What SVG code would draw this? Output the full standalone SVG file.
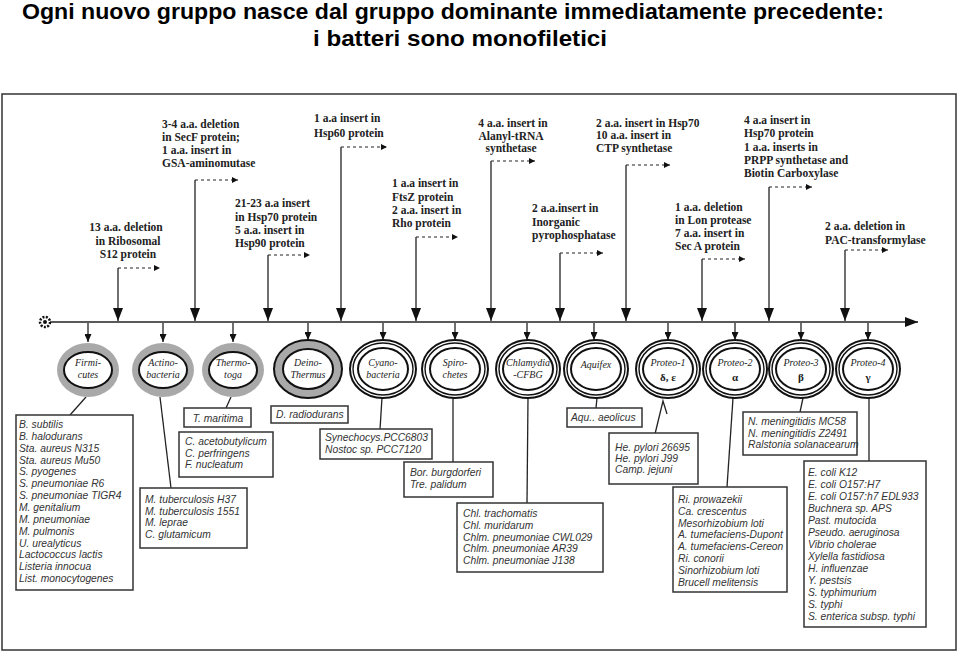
<svg xmlns="http://www.w3.org/2000/svg" width="960" height="654" viewBox="0 0 960 654">
<defs>
<style>
.title{font-family:"Liberation Sans",Arial,sans-serif;font-weight:bold;font-size:22px;fill:#000;text-anchor:middle}
.ann{font-family:"Liberation Serif","Times New Roman",serif;font-weight:bold;font-size:11.5px;fill:#222}
.sp{font-family:"Liberation Sans",Arial,sans-serif;font-style:italic;font-size:10.3px;fill:#333}
.nl{font-family:"Liberation Serif","Times New Roman",serif;font-style:italic;font-size:10px;fill:#222;text-anchor:middle}
.gr{font-family:"Liberation Serif","Times New Roman",serif;font-weight:bold;font-size:11px;fill:#222;text-anchor:middle}
.box{fill:#fff;stroke:#333;stroke-width:1.5}
.ln{stroke:#222;stroke-width:1.3;fill:none}
.dash{stroke:#222;stroke-width:1.2;stroke-dasharray:3 3;fill:none}
.ring{fill:#fff;stroke:#111;stroke-width:2}
.ring1{fill:#fff;stroke:#111;stroke-width:1.4}
.gray{fill:#a9a9a9;stroke:none}
</style>
<marker id="big" viewBox="0 0 13 10" refX="13" refY="5" markerWidth="13" markerHeight="10" orient="auto" markerUnits="userSpaceOnUse"><path d="M0,0 L13,5 L0,10 z" fill="#111"/></marker>
<marker id="med" viewBox="0 0 8 7" refX="8" refY="3.5" markerWidth="8" markerHeight="7" orient="auto" markerUnits="userSpaceOnUse"><path d="M0,0 L8,3.5 L0,7 z" fill="#111"/></marker>
<marker id="sm" viewBox="0 0 6 6" refX="6" refY="3" markerWidth="6" markerHeight="6" orient="auto" markerUnits="userSpaceOnUse"><path d="M0,0 L6,3 L0,6 z" fill="#111"/></marker>
</defs>
<rect width="960" height="654" fill="#fff"/>
<text class="title" x="453" y="19" textLength="862" lengthAdjust="spacingAndGlyphs">Ogni nuovo gruppo nasce dal gruppo dominante immediatamente precedente:</text>
<text class="title" x="460" y="46" textLength="294" lengthAdjust="spacingAndGlyphs">i batteri sono monofiletici</text>
<rect x="2" y="94" width="954" height="556" fill="none" stroke="#333" stroke-width="1.5"/>

<g id="connectors">
  <line class="ln" x1="50" y1="322" x2="918" y2="322" stroke-width="2" marker-end="url(#big)"/>
  <line class="ln" x1="118" y1="268" x2="118" y2="321" marker-end="url(#big)"/><line class="dash" x1="118" y1="268" x2="160" y2="268" marker-end="url(#sm)"/>
  <line class="ln" x1="195" y1="180" x2="195" y2="321" marker-end="url(#big)"/><line class="dash" x1="195" y1="180" x2="238" y2="180" marker-end="url(#sm)"/>
  <line class="ln" x1="268" y1="255" x2="268" y2="321" marker-end="url(#big)"/><line class="dash" x1="268" y1="255" x2="310" y2="255" marker-end="url(#sm)"/>
  <line class="ln" x1="341" y1="147" x2="341" y2="321" marker-end="url(#big)"/><line class="dash" x1="341" y1="147" x2="387" y2="147" marker-end="url(#sm)"/>
  <line class="ln" x1="416" y1="237" x2="416" y2="321" marker-end="url(#big)"/><line class="dash" x1="416" y1="237" x2="458" y2="237" marker-end="url(#sm)"/>
  <line class="ln" x1="491" y1="161" x2="491" y2="321" marker-end="url(#big)"/><line class="dash" x1="491" y1="161" x2="535" y2="161" marker-end="url(#sm)"/>
  <line class="ln" x1="560" y1="253" x2="560" y2="321" marker-end="url(#big)"/><line class="dash" x1="560" y1="253" x2="603" y2="253" marker-end="url(#sm)"/>
  <line class="ln" x1="626" y1="165" x2="626" y2="321" marker-end="url(#big)"/><line class="dash" x1="626" y1="165" x2="670" y2="165" marker-end="url(#sm)"/>
  <line class="ln" x1="702" y1="259" x2="702" y2="321" marker-end="url(#big)"/><line class="dash" x1="702" y1="259" x2="745" y2="259" marker-end="url(#sm)"/>
  <line class="ln" x1="769" y1="187" x2="769" y2="321" marker-end="url(#big)"/><line class="dash" x1="769" y1="187" x2="812" y2="187" marker-end="url(#sm)"/>
  <line class="ln" x1="845" y1="250" x2="845" y2="321" marker-end="url(#big)"/><line class="dash" x1="845" y1="250" x2="888" y2="250" marker-end="url(#sm)"/>
  <line class="ln" x1="88" y1="323" x2="88" y2="342" marker-end="url(#med)"/>
  <line class="ln" x1="163" y1="323" x2="163" y2="342" marker-end="url(#med)"/>
  <line class="ln" x1="233" y1="323" x2="233" y2="342" marker-end="url(#med)"/>
  <line class="ln" x1="308" y1="323" x2="308" y2="340" marker-end="url(#med)"/>
  <line class="ln" x1="383" y1="323" x2="383" y2="340" marker-end="url(#med)"/>
  <line class="ln" x1="455" y1="323" x2="455" y2="340" marker-end="url(#med)"/>
  <line class="ln" x1="527" y1="323" x2="527" y2="340" marker-end="url(#med)"/>
  <line class="ln" x1="594" y1="323" x2="594" y2="340" marker-end="url(#med)"/>
  <line class="ln" x1="668" y1="323" x2="668" y2="340" marker-end="url(#med)"/>
  <line class="ln" x1="735" y1="323" x2="735" y2="340" marker-end="url(#med)"/>
  <line class="ln" x1="801" y1="323" x2="801" y2="340" marker-end="url(#med)"/>
  <line class="ln" x1="868" y1="323" x2="868" y2="340" marker-end="url(#med)"/>
  <line class="ln" x1="86" y1="397" x2="70" y2="415" stroke="#777"/>
  <line class="ln" x1="160" y1="397" x2="171" y2="488"/>
  <line class="ln" x1="231" y1="397" x2="226" y2="408"/>
  <line class="ln" x1="382" y1="398" x2="380" y2="429"/>
  <line class="ln" x1="453" y1="398" x2="453" y2="462"/>
  <line class="ln" x1="528" y1="398" x2="527" y2="503"/>
  <line class="ln" x1="597" y1="398" x2="596" y2="408"/>
  <polyline class="ln" points="655,434 663,401 667,414"/>
  <line class="ln" x1="733" y1="398" x2="727" y2="487"/>
  <line class="ln" x1="803" y1="398" x2="800" y2="412"/>
  <line class="ln" x1="869" y1="398" x2="869" y2="461"/>
</g>

<g id="origin">
  <circle cx="45" cy="322" r="5" fill="#fff" stroke="#111" stroke-width="2.5" stroke-dasharray="2 1.4"/>
  <circle cx="45" cy="322" r="2" fill="#111"/>
</g>

<g id="annotations">
  <g id="ann1" class="ann" text-anchor="middle"><text x="126" y="231">13 a.a. deletion</text><text x="128" y="245">in Ribosomal</text><text x="128" y="258">S12 protein</text></g>
  <g id="ann2" class="ann"><text x="162" y="128">3-4 a.a. deletion</text><text x="162" y="141">in SecF protein;</text><text x="162" y="154">1 a.a. insert in</text><text x="162" y="167">GSA-aminomutase</text></g>
  <g id="ann3" class="ann"><text x="235" y="207">21-23 a.a insert</text><text x="235" y="221">in Hsp70 protein</text><text x="235" y="234">5 a.a. insert in</text><text x="235" y="247">Hsp90 protein</text></g>
  <g id="ann4" class="ann"><text x="314" y="122">1 a.a insert in</text><text x="314" y="137">Hsp60 protein</text></g>
  <g id="ann5" class="ann"><text x="392" y="187">1 a.a insert in</text><text x="392" y="201">FtsZ protein</text><text x="392" y="214">2 a.a. insert in</text><text x="392" y="227">Rho protein</text></g>
  <g id="ann6" class="ann" text-anchor="middle"><text x="513" y="127">4 a.a. insert in</text><text x="511" y="140">Alanyl-tRNA</text><text x="511" y="152">synthetase</text></g>
  <g id="ann7" class="ann"><text x="532" y="212">2 a.a.insert in</text><text x="532" y="226">Inorganic</text><text x="532" y="239">pyrophosphatase</text></g>
  <g id="ann8" class="ann"><text x="596" y="127">2 a.a. insert in Hsp70</text><text x="596" y="139">10 a.a. insert in</text><text x="596" y="152">CTP synthetase</text></g>
  <g id="ann9" class="ann"><text x="744" y="124">4 a.a insert in</text><text x="744" y="137">Hsp70 protein</text><text x="744" y="151">1 a.a. inserts in</text><text x="744" y="164">PRPP synthetase and</text><text x="744" y="177">Biotin Carboxylase</text></g>
  <g id="ann10" class="ann"><text x="675" y="211">1 a.a. deletion</text><text x="675" y="224">in Lon protease</text><text x="675" y="237">7 a.a. insert in</text><text x="675" y="250">Sec A protein</text></g>
  <g id="ann11" class="ann"><text x="825" y="230">2 a.a. deletion in</text><text x="825" y="244">PAC-transformylase</text></g>
</g>

<g id="node-firmicutes"><ellipse class="gray" cx="88" cy="370" rx="31" ry="27"/><ellipse class="ring" cx="88" cy="370" rx="24" ry="18"/><text class="nl" x="88" y="366">Firmi-</text><text class="nl" x="88" y="378">cutes</text></g>
<g id="node-actinobacteria"><ellipse class="gray" cx="163" cy="370" rx="31" ry="27"/><ellipse class="ring" cx="163" cy="370" rx="24" ry="18"/><text class="nl" x="163" y="366">Actino-</text><text class="nl" x="163" y="378">bacteria</text></g>
<g id="node-thermotoga"><ellipse class="gray" cx="233" cy="370" rx="31" ry="27"/><ellipse class="ring" cx="233" cy="370" rx="24" ry="18"/><text class="nl" x="233" y="366">Thermo-</text><text class="nl" x="233" y="378">toga</text></g>
<g id="node-deinothermus"><ellipse cx="308" cy="369" rx="34" ry="29" fill="#a9a9a9" stroke="#111" stroke-width="2"/><ellipse class="ring" cx="308" cy="369" rx="25" ry="20"/><text class="nl" x="308" y="366">Deino-</text><text class="nl" x="308" y="378">Thermus</text></g>
<g id="node-cyanobacteria"><ellipse class="ring" cx="383" cy="369" rx="33" ry="29"/><ellipse class="ring1" cx="383" cy="369" rx="30" ry="26"/><ellipse class="ring" cx="383" cy="369" rx="25" ry="21"/><text class="nl" x="383" y="366">Cyano-</text><text class="nl" x="383" y="378">bacteria</text></g>
<g id="node-spirochetes"><ellipse class="ring" cx="455" cy="369" rx="33" ry="29"/><ellipse class="ring1" cx="455" cy="369" rx="30" ry="26"/><ellipse class="ring" cx="455" cy="369" rx="25" ry="21"/><text class="nl" x="455" y="366">Spiro-</text><text class="nl" x="455" y="378">chetes</text></g>
<g id="node-chlamydia"><ellipse class="ring" cx="528" cy="369" rx="32" ry="29"/><ellipse class="ring1" cx="528" cy="369" rx="29" ry="26"/><ellipse class="ring" cx="528" cy="369" rx="25" ry="21"/><text class="nl" x="528" y="366">Chlamydia</text><text class="nl" x="528" y="378">-CFBG</text></g>
<g id="node-aquifex"><ellipse class="ring" cx="596" cy="369" rx="32" ry="29"/><ellipse class="ring1" cx="596" cy="369" rx="29" ry="26"/><ellipse class="ring" cx="596" cy="369" rx="25" ry="21"/><text class="nl" x="596" y="368">Aquifex</text></g>
<g id="node-proteo1"><ellipse class="ring" cx="668" cy="369" rx="32" ry="29"/><ellipse class="ring1" cx="668" cy="369" rx="29" ry="26"/><ellipse class="ring" cx="668" cy="369" rx="25" ry="21"/><text class="nl" x="668" y="366">Proteo-1</text><text class="gr" x="668" y="381">δ, ε</text></g>
<g id="node-proteo2"><ellipse class="ring" cx="735" cy="369" rx="32" ry="29"/><ellipse class="ring1" cx="735" cy="369" rx="29" ry="26"/><ellipse class="ring" cx="735" cy="369" rx="25" ry="21"/><text class="nl" x="735" y="366">Proteo-2</text><text class="gr" x="735" y="381">α</text></g>
<g id="node-proteo3"><ellipse class="ring" cx="801" cy="369" rx="32" ry="29"/><ellipse class="ring1" cx="801" cy="369" rx="29" ry="26"/><ellipse class="ring" cx="801" cy="369" rx="25" ry="21"/><text class="nl" x="801" y="366">Proteo-3</text><text class="gr" x="801" y="381">β</text></g>
<g id="node-proteo4"><ellipse class="ring" cx="868" cy="369" rx="32" ry="29"/><ellipse class="ring1" cx="868" cy="369" rx="29" ry="26"/><ellipse class="ring" cx="868" cy="369" rx="25" ry="21"/><text class="nl" x="868" y="366">Proteo-4</text><text class="gr" x="868" y="381">γ</text></g>

<g id="box-firmicutes"><rect class="box" x="16" y="415" width="117" height="175"/>
<text class="sp" x="19" y="428"><tspan x="19">B. subtilis</tspan><tspan x="19" dy="11.85">B. halodurans</tspan><tspan x="19" dy="11.85">Sta. aureus N315</tspan><tspan x="19" dy="11.85">Sta. aureus Mu50</tspan><tspan x="19" dy="11.85">S. pyogenes</tspan><tspan x="19" dy="11.85">S. pneumoniae R6</tspan><tspan x="19" dy="11.85">S. pneumoniae TIGR4</tspan><tspan x="19" dy="11.85">M. genitalium</tspan><tspan x="19" dy="11.85">M. pneumoniae</tspan><tspan x="19" dy="11.85">M. pulmonis</tspan><tspan x="19" dy="11.85">U. urealyticus</tspan><tspan x="19" dy="11.85">Lactococcus lactis</tspan><tspan x="19" dy="11.85">Listeria innocua</tspan><tspan x="19" dy="11.85">List. monocytogenes</tspan></text></g>
<g id="box-actinobacteria"><rect class="box" x="140" y="488" width="107" height="60"/>
<text class="sp" x="145" y="503"><tspan x="145">M. tuberculosis H37</tspan><tspan x="145" dy="11.7">M. tuberculosis 1551</tspan><tspan x="145" dy="11.7">M. leprae</tspan><tspan x="145" dy="11.7">C. glutamicum</tspan></text></g>
<g id="box-thermotoga"><rect class="box" x="184" y="408" width="67" height="19"/><text class="sp" x="218" y="421.5" text-anchor="middle">T. maritima</text></g>
<g id="box-clostridia"><rect class="box" x="179" y="432" width="94" height="45"/>
<text class="sp" x="185" y="445"><tspan x="185">C. acetobutylicum</tspan><tspan x="185" dy="11.5">C. perfringens</tspan><tspan x="185" dy="11.5">F. nucleatum</tspan></text></g>
<g id="box-deinothermus"><rect class="box" x="271" y="406" width="77" height="17"/><text class="sp" x="276" y="418">D. radiodurans</text></g>
<g id="box-cyanobacteria"><rect class="box" x="320" y="429" width="112" height="30"/>
<text class="sp" x="325" y="441"><tspan x="325">Synechocys.PCC6803</tspan><tspan x="325" dy="11.5">Nostoc sp. PCC7120</tspan></text></g>
<g id="box-spirochetes"><rect class="box" x="404" y="462" width="89" height="35"/>
<text class="sp" x="410" y="476"><tspan x="410">Bor. burgdorferi</tspan><tspan x="410" dy="11.5">Tre. palidum</tspan></text></g>
<g id="box-chlamydia"><rect class="box" x="457" y="503" width="146" height="69"/>
<text class="sp" x="463" y="517"><tspan x="463">Chl. trachomatis</tspan><tspan x="463" dy="11.8">Chl. muridarum</tspan><tspan x="463" dy="11.8">Chlm. pneumoniae CWL029</tspan><tspan x="463" dy="11.8">Chlm. pneumoniae AR39</tspan><tspan x="463" dy="11.8">Chlm. pneumoniae J138</tspan></text></g>
<g id="box-aquifex"><rect class="box" x="567" y="408" width="75" height="19"/><text class="sp" x="571" y="421">Aqu.. aeolicus</text></g>
<g id="box-proteo1"><rect class="box" x="609" y="433" width="89" height="51"/>
<text class="sp" x="615" y="451"><tspan x="615">He. pylori 26695</tspan><tspan x="615" dy="10.8">He. pylori J99</tspan><tspan x="615" dy="10.8">Camp. jejuni</tspan></text></g>
<g id="box-proteo2"><rect class="box" x="673" y="487" width="114" height="105"/>
<text class="sp" x="678" y="503"><tspan x="678">Ri. prowazekii</tspan><tspan x="678" dy="11.8">Ca. crescentus</tspan><tspan x="678" dy="11.8">Mesorhizobium loti</tspan><tspan x="678" dy="11.8">A. tumefaciens-Dupont</tspan><tspan x="678" dy="11.8">A. tumefaciens-Cereon</tspan><tspan x="678" dy="11.8">Ri. conorii</tspan><tspan x="678" dy="11.8">Sinorhizobium loti</tspan><tspan x="678" dy="11.8">Brucell melitensis</tspan></text></g>
<g id="box-proteo3"><rect class="box" x="743" y="412" width="114" height="43"/>
<text class="sp" x="748" y="425"><tspan x="748">N. meningitidis MC58</tspan><tspan x="748" dy="11.5">N. meningitidis Z2491</tspan><tspan x="748" dy="11.5">Ralstonia solanacearum</tspan></text></g>
<g id="box-proteo4"><rect class="box" x="804" y="461" width="122" height="166"/>
<text class="sp" x="808" y="476"><tspan x="808">E. coli K12</tspan><tspan x="808" dy="12">E. coli O157:H7</tspan><tspan x="808" dy="12">E. coli O157:h7 EDL933</tspan><tspan x="808" dy="12">Buchnera sp. APS</tspan><tspan x="808" dy="12">Past. mutocida</tspan><tspan x="808" dy="12">Pseudo. aeruginosa</tspan><tspan x="808" dy="12">Vibrio cholerae</tspan><tspan x="808" dy="12">Xylella fastidiosa</tspan><tspan x="808" dy="12">H. influenzae</tspan><tspan x="808" dy="12">Y. pestsis</tspan><tspan x="808" dy="12">S. typhimurium</tspan><tspan x="808" dy="12">S. typhi</tspan><tspan x="808" dy="12">S. enterica subsp. typhi</tspan></text></g>
</svg>
